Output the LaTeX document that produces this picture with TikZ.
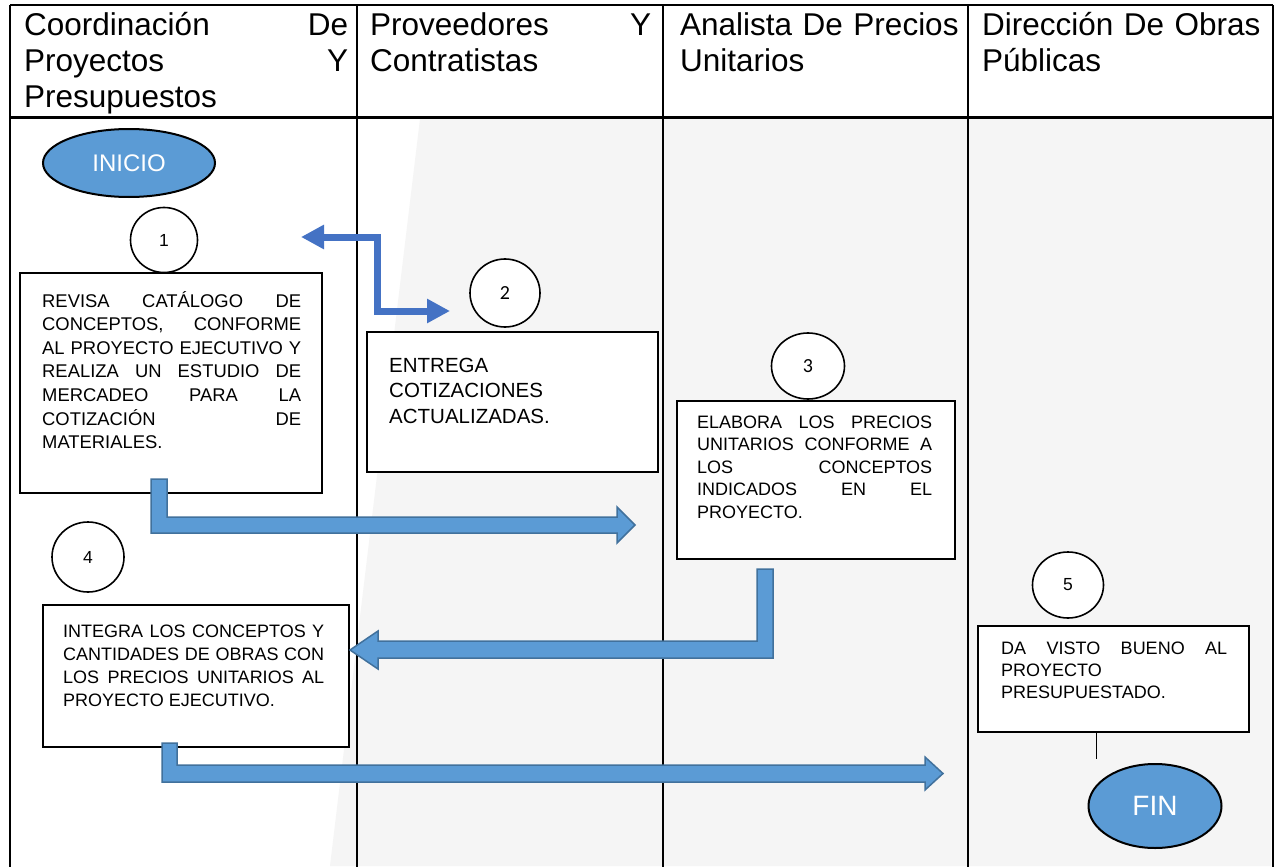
\documentclass[tikz,border=0pt]{standalone}
\usepackage{fontspec}
\setmainfont{Liberation Sans}
\newfontfamily\calibrifont{Carlito}
\usetikzlibrary{arrows.meta,shapes.geometric}
\definecolor{fillblue}{HTML}{5B9BD5}
\definecolor{edgeblue}{HTML}{41719C}
\definecolor{darkblue}{HTML}{4472C4}
\definecolor{wmgray}{HTML}{F5F5F5}
\begin{document}
\begin{tikzpicture}[x=1pt,y=-1pt,
  tline/.style={line width=2.2pt,black},
  hdr/.style={anchor=base west,inner sep=0pt,align=left,font=\fontsize{31.5}{36}\selectfont},
  terminal/.style={ellipse,draw=black,line width=2pt,fill=fillblue,text=white,inner sep=0pt},
  numcirc/.style={ellipse,draw=black,line width=1.6pt,fill=white,inner sep=0pt,font=\fontsize{17.5}{19}\selectfont},
  stepbox/.style={rectangle,draw=black,line width=2pt,fill=white,inner sep=0pt},
  boxtext/.style={anchor=base west,inner sep=0pt,align=justify},
  blockarrow/.style={fill=fillblue,draw=edgeblue,line width=1.5pt,line join=miter},
  thinarrow/.style={line width=7pt,darkblue,{Triangle[length=23pt,width=23pt]}-{Triangle[length=23pt,width=23pt]}}
]
\useasboundingbox (0,0) rectangle (1275,867);
\fill[white] (0,0) rectangle (1275,867);
% faint watermark background
\fill[wmgray] (420,119) -- (1271,119) -- (1271,866) -- (330,866) -- cycle;

% table
\draw[tline] (10,5) -- (1273,5);
\draw[tline] (10,5) -- (10,867);
\draw[tline] (1273,5) -- (1273,867);
\draw[line width=3pt] (10,117) -- (1273,117);
\draw[line width=2pt] (357,5) -- (357,867);
\draw[line width=2pt] (663,5) -- (663,867);
\draw[line width=2pt] (968,5) -- (968,867);

% headers
\node[hdr,text width=324pt] (h1) at (24,36) {Coordinación\hfill De\\Proyectos\hfill Y\\Presupuestos};
\node[hdr,text width=281pt] (h2) at (370,36) {Proveedores\hfill Y\\Contratistas};
\node[hdr,text width=285pt] (h3) at (680,36) {Analista De Precios\\Unitarios};
\node[hdr,text width=290pt] (h4) at (982,36) {Dirección De Obras\\Públicas};

% terminals
\node[terminal,minimum width=172pt,minimum height=68pt,font=\fontsize{24}{28}\selectfont] (inicio) at (129,163) {INICIO};
\node[terminal,minimum width=133pt,minimum height=84pt,font=\fontsize{28}{32}\selectfont] (fin) at (1155,806) {FIN};

% numbered circles
\node[numcirc,minimum width=67pt,minimum height=65pt] (c1) at (164,240) {1};
\node[numcirc,minimum width=70pt,minimum height=68pt,font=\calibrifont\fontsize{20}{22}\selectfont] (c2) at (505,293) {2};
\node[numcirc,minimum width=73pt,minimum height=66pt,font=\calibrifont\fontsize{20}{22}\selectfont] (c3) at (808,366) {3};
\node[numcirc,minimum width=72pt,minimum height=70pt] (c4) at (88,557) {4};
\node[numcirc,minimum width=71pt,minimum height=66pt] (c5) at (1068,585) {5};

% boxes
\node[stepbox,minimum width=302pt,minimum height=220pt] (b1) at (171,383) {};
\node[stepbox,minimum width=291pt,minimum height=140pt] (b2) at (512.5,402) {};
\node[stepbox,minimum width=278pt,minimum height=158pt] (b3) at (816,480) {};
\node[stepbox,minimum width=306pt,minimum height=142pt] (b4) at (196,676) {};
\node[stepbox,minimum width=271pt,minimum height=106pt] (b5) at (1113.5,679) {};

% box texts
\node[boxtext,text width=259pt,font=\fontsize{18.4}{23.6}\selectfont] (t1) at (42,307)
  {REVISA CATÁLOGO DE\linebreak CONCEPTOS, CONFORME\linebreak AL PROYECTO EJECUTIVO Y\linebreak REALIZA UN ESTUDIO DE\linebreak MERCADEO PARA LA\linebreak COTIZACIÓN DE\linebreak MATERIALES.};
\node[anchor=base west,inner sep=0pt,align=left,text width=260pt,font=\fontsize{20.5}{25.5}\selectfont] (t2) at (389,372)
  {ENTREGA\\COTIZACIONES\\ACTUALIZADAS.};
\node[boxtext,text width=235pt,font=\fontsize{18}{22.5}\selectfont] (t3) at (697,428)
  {ELABORA LOS PRECIOS\linebreak UNITARIOS CONFORME A\linebreak LOS CONCEPTOS\linebreak INDICADOS EN EL\linebreak PROYECTO.};
\node[boxtext,text width=261pt,font=\fontsize{18}{23}\selectfont] (t4) at (63,637)
  {INTEGRA LOS CONCEPTOS Y\linebreak CANTIDADES DE OBRAS CON\linebreak LOS PRECIOS UNITARIOS AL\linebreak PROYECTO EJECUTIVO.};
\node[boxtext,text width=226pt,font=\fontsize{18}{22.3}\selectfont] (t5) at (1001,654)
  {DA VISTO BUENO AL\linebreak PROYECTO\\PRESUPUESTADO.};

% thin double arrow between lanes 1 and 2
\coordinate (d1) at (301,237);
\coordinate (d2) at (450,311);
\draw[thinarrow] (d1) -- (377,237) -- (377,311) -- (d2);

% block arrows
\draw[blockarrow] (151,479) -- (167,479) -- (167,517) -- (617,517) -- (617,507) -- (635,525) -- (617,543) -- (617,533) -- (151,533) -- cycle;
\draw[blockarrow] (773,569) -- (757,569) -- (757,641) -- (378,641) -- (378,631) -- (350,650) -- (378,669) -- (378,658) -- (773,658) -- cycle;
\draw[blockarrow] (162,743) -- (177,743) -- (177,765) -- (925,765) -- (925,757) -- (943,773.5) -- (925,790) -- (925,782) -- (162,782) -- cycle;

% connector from box 5 toward FIN
\coordinate (l5) at (1096,759);
\draw[line width=1pt] (b5.south -| l5) -- (l5);
\end{tikzpicture}
\end{document}
